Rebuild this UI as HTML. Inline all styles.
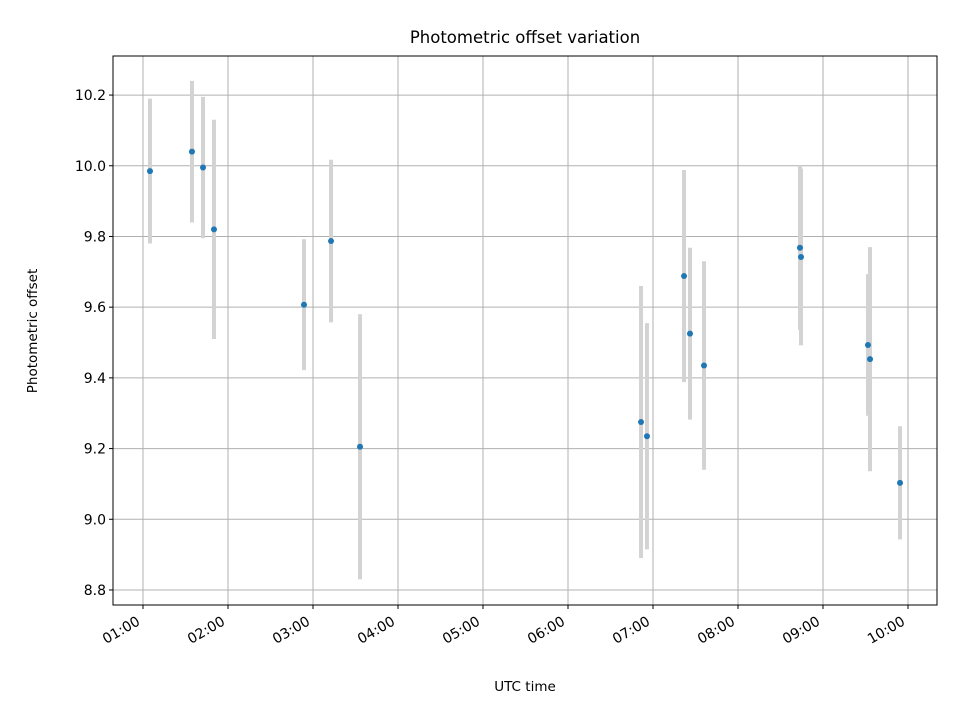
<!DOCTYPE html>
<html><head><meta charset="utf-8"><style>
body{margin:0;background:#fff;}
svg text{font-family:"DejaVu Sans","Liberation Sans",sans-serif;fill:#000;}
</style></head><body>
<svg id="chart" width="960" height="720" xmlns="http://www.w3.org/2000/svg">
<rect width="960" height="720" fill="#fff"/>
<text x="525" y="43" font-size="16.5" text-anchor="middle">Photometric offset variation</text>
<g id="grid"></g>
<g id="bars"></g>
<g id="pts"></g>
<rect x="113" y="56" width="824" height="549" fill="none" stroke="#000" stroke-width="1"/>
<g id="xt"></g>
<g id="yt"></g>
<text x="525" y="691" font-size="13.5" text-anchor="middle">UTC time</text>
<text x="37" y="331" font-size="13.5" text-anchor="middle" transform="rotate(-90 37 331)">Photometric offset</text>
</svg>
<script>
const timesH = [1.082,1.576,1.706,1.835,2.894,3.212,3.553,6.859,6.929,7.365,7.435,7.600,8.729,8.741,9.529,9.553,9.906];
const offsets = [9.985,10.04,9.995,9.82,9.607,9.787,9.205,9.275,9.235,9.688,9.525,9.435,9.768,9.742,9.493,9.453,9.103];
const errors = [0.205,0.20,0.20,0.31,0.185,0.23,0.375,0.385,0.32,0.30,0.243,0.295,0.232,0.25,0.20,0.317,0.16];
const xTickHours = [1,2,3,4,5,6,7,8,9,10];
const xTickLabels = ["01:00","02:00","03:00","04:00","05:00","06:00","07:00","08:00","09:00","10:00"];
const yTicks = [8.8,9.0,9.2,9.4,9.6,9.8,10.0,10.2];
const yTickLabels = ["8.8","9.0","9.2","9.4","9.6","9.8","10.0","10.2"];

const L=113,R=937,T=56,B=605;
const xmin=0.647,xmax=10.341,ymin=8.7575,ymax=10.3105;
const xs=h=>L+(h-xmin)/(xmax-xmin)*(R-L);
const ys=v=>B-(v-ymin)/(ymax-ymin)*(B-T);
const NS="http://www.w3.org/2000/svg";
function mk(tag,attrs,parent){const e=document.createElementNS(NS,tag);for(const k in attrs)e.setAttribute(k,attrs[k]);document.getElementById(parent).appendChild(e);return e;}

xTickHours.forEach((h,i)=>{
  const x=xs(h);
  const g=mk('line',{x1:x,x2:x,y1:T,y2:B,stroke:'#b0b0b0','stroke-width':1},'grid');
  
  
  const t=mk('line',{x1:x,x2:x,y1:B,y2:B+4,stroke:'#000'},'xt');
  
  
  const ax=x-2, ay=B+19;
  const tx=mk('text',{x:ax,y:ay,'font-size':14,'text-anchor':'end',transform:`rotate(-30 ${ax} ${ay})`},'xt');
  tx.textContent=xTickLabels[i];
  
  
});
yTicks.forEach((v,i)=>{
  const y=ys(v);
  const g=mk('line',{x1:L,x2:R,y1:y,y2:y,stroke:'#b0b0b0','stroke-width':1},'grid');
  
  
  const t=mk('line',{x1:L-4,x2:L,y1:y,y2:y,stroke:'#000'},'yt');
  
  
  const tx=mk('text',{x:L-7,y:y+5,'font-size':14,'text-anchor':'end'},'yt');
  tx.textContent=yTickLabels[i];
  
  
});
timesH.forEach((h,i)=>{
  const x=xs(h);
  const b=mk('line',{x1:x,x2:x,y1:ys(offsets[i]+errors[i]),y2:ys(offsets[i]-errors[i]),stroke:'#d3d3d3','stroke-width':4},'bars');
  
  
});
timesH.forEach((h,i)=>{
  const c=mk('circle',{cx:xs(h),cy:ys(offsets[i]),r:3,fill:'#1f77b4'},'pts');
  
  
});
</script>
</body></html>
